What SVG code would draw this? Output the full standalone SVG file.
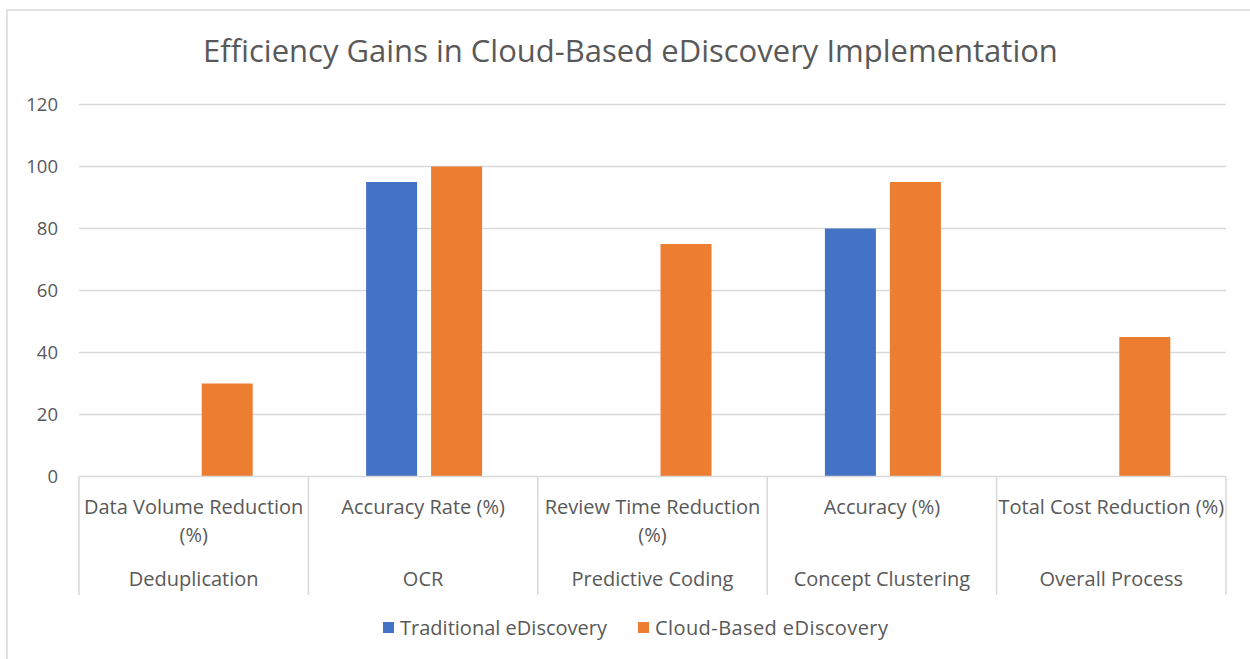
<svg xmlns="http://www.w3.org/2000/svg" width="1250" height="659" viewBox="0 0 1250 659">
<style>
text{font-family:"Open Sans","Liberation Sans",Arial,sans-serif;fill:#595959}
.grid{stroke:#d9d9d9;stroke-width:1.5;fill:none}
.ax{font-size:18.5px;text-anchor:end}
.cat{font-size:20px;text-anchor:middle}
.leg{font-size:20px}
.blue{fill:#4472C4}
.orange{fill:#ED7D31}
</style>
<rect x="0" y="0" width="1250" height="659" fill="#ffffff"/>
<rect x="7" y="10" width="1260" height="670" fill="#ffffff" stroke="#d9d9d9" stroke-width="1.5"/>
<text id="title" x="630.5" y="62" font-size="31" text-anchor="middle">Efficiency Gains in Cloud-Based eDiscovery Implementation</text>
<g id="gridlines">
<line class="grid" x1="79" y1="104.5" x2="1226" y2="104.5"/>
<line class="grid" x1="79" y1="166.5" x2="1226" y2="166.5"/>
<line class="grid" x1="79" y1="228.5" x2="1226" y2="228.5"/>
<line class="grid" x1="79" y1="290.5" x2="1226" y2="290.5"/>
<line class="grid" x1="79" y1="352.5" x2="1226" y2="352.5"/>
<line class="grid" x1="79" y1="414.5" x2="1226" y2="414.5"/>
</g>
<g id="y-axis">
<text class="ax" x="58" y="111">120</text>
<text class="ax" x="58" y="173">100</text>
<text class="ax" x="58" y="235">80</text>
<text class="ax" x="58" y="297">60</text>
<text class="ax" x="58" y="359">40</text>
<text class="ax" x="58" y="421">20</text>
<text class="ax" x="58" y="483">0</text>
</g>
<g id="bars">
<rect class="orange" x="201.7" y="383.5" width="51" height="93"/>
<rect class="blue" x="366.1" y="182" width="51" height="294.5"/>
<rect class="orange" x="431.1" y="166.5" width="51" height="310"/>
<rect class="orange" x="660.5" y="244" width="51" height="232.5"/>
<rect class="blue" x="824.9" y="228.5" width="51" height="248"/>
<rect class="orange" x="889.9" y="182" width="51" height="294.5"/>
<rect class="orange" x="1119.3" y="337" width="51" height="139.5"/>
</g>
<g id="x-axis">
<line class="grid" x1="79" y1="476.5" x2="1226" y2="476.5"/>
<line class="grid" x1="79" y1="476.5" x2="79" y2="595"/>
<line class="grid" x1="308.4" y1="476.5" x2="308.4" y2="595"/>
<line class="grid" x1="537.8" y1="476.5" x2="537.8" y2="595"/>
<line class="grid" x1="767.2" y1="476.5" x2="767.2" y2="595"/>
<line class="grid" x1="996.6" y1="476.5" x2="996.6" y2="595"/>
<line class="grid" x1="1226" y1="476.5" x2="1226" y2="595"/>
<text class="cat" x="193.7" y="514">Data Volume Reduction</text>
<text class="cat" x="193.7" y="542">(%)</text>
<text class="cat" x="423.1" y="514">Accuracy Rate (%)</text>
<text class="cat" x="652.5" y="514">Review Time Reduction</text>
<text class="cat" x="652.5" y="542">(%)</text>
<text class="cat" x="881.9" y="514">Accuracy (%)</text>
<text class="cat" x="1111.3" y="514">Total Cost Reduction (%)</text>
<text class="cat" x="193.7" y="586">Deduplication</text>
<text class="cat" x="423.1" y="586">OCR</text>
<text class="cat" x="652.5" y="586">Predictive Coding</text>
<text class="cat" x="881.9" y="586">Concept Clustering</text>
<text class="cat" x="1111.3" y="586">Overall Process</text>
</g>
<g id="legend">
<rect class="blue" x="383" y="622" width="11" height="11"/>
<text class="leg" x="400" y="635" textLength="207" lengthAdjust="spacing">Traditional eDiscovery</text>
<rect class="orange" x="638" y="622" width="11" height="11"/>
<text class="leg" x="655" y="635" textLength="233" lengthAdjust="spacing">Cloud-Based eDiscovery</text>
</g>
</svg>
